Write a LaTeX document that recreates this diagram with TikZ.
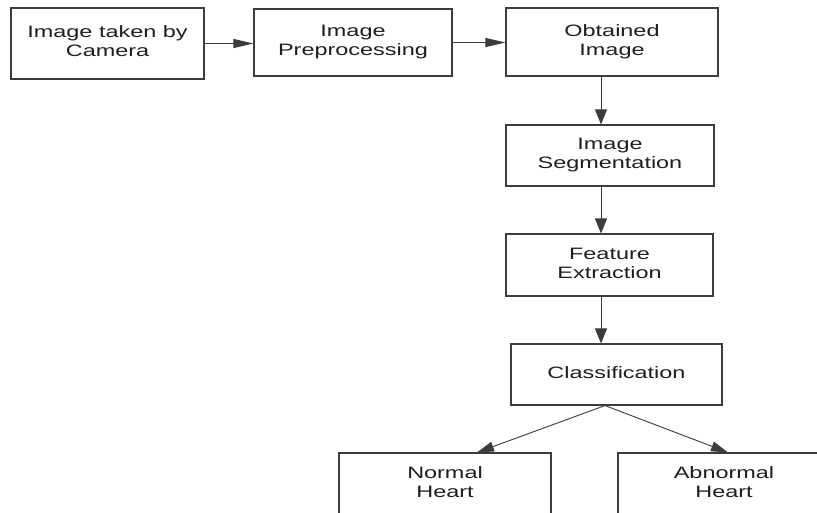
\documentclass[tikz,border=0pt]{standalone}
\usepackage{fontspec}
\setmainfont{Liberation Sans}
\usepackage{graphicx}
\usetikzlibrary{arrows.meta}
\newcommand\bt[1]{\raisebox{-2.1pt}{\scalebox{1.42}[1]{\begin{tabular}{@{}c@{}}#1\end{tabular}}}}
\definecolor{lc}{HTML}{3C3C3C}
\definecolor{tc}{HTML}{1E1E1E}
\begin{document}
\begin{tikzpicture}[x=1pt,y=-1pt,
  blk/.style={draw=lc,line width=1.1pt,inner sep=0pt,text=tc,
    font=\fontsize{16.5}{19}\selectfont,align=center},
  harr/.style={draw=lc,line width=1pt,-{Triangle[length=20pt,width=9pt]}},
  varr/.style={draw=lc,line width=1pt,-{Triangle[length=15pt,width=12pt]}},
  darr/.style={draw=lc,line width=0.9pt,-{Triangle[length=17pt,width=10pt]}}]
\fill[white] (0,0) rectangle (817,512);
\useasboundingbox (0,0) rectangle (817,512);
\clip (0,0) rectangle (817,512);
\node[blk,minimum width=193pt,minimum height=71pt] (b1) at (107.5,43.5) {\bt{Image taken by\\Camera}};
\node[blk,minimum width=198pt,minimum height=67pt] (b2) at (353,42.5) {\bt{Image\\Preprocessing}};
\node[blk,minimum width=212pt,minimum height=68pt] (b3) at (612,42) {\bt{Obtained\\Image}};
\node[blk,minimum width=208pt,minimum height=61pt] (b4) at (610,155.5) {\bt{Image\\Segmentation}};
\node[blk,minimum width=207pt,minimum height=62pt] (b5) at (609.5,265) {\bt{Feature\\Extraction}};
\node[blk,minimum width=211pt,minimum height=61pt] (b6) at (616.5,374.5) {\bt{Classification}};
\node[blk,minimum width=212pt,minimum height=62pt] (b7) at (445,484) {\bt{Normal\\Heart}};
\node[blk,minimum width=212pt,minimum height=62pt] (b8) at (724,484) {\bt{Abnormal\\Heart}};
\coordinate (vx) at (601,0);
\coordinate (sp) at (605,0);
\coordinate (lx) at (477,0);
\coordinate (rx) at (728,0);
\draw[harr] (b1.east) -- (b1.east -| b2.west);
\draw[harr] (b2.east) -- (b2.east -| b3.west);
\draw[varr] (b3.south -| vx) -- (b4.north -| vx);
\draw[varr] (b4.south -| vx) -- (b5.north -| vx);
\draw[varr] (b5.south -| vx) -- (b6.north -| vx);
\draw[darr] (b6.south -| sp) -- (b7.north -| lx);
\draw[darr] (b6.south -| sp) -- (b8.north -| rx);
\end{tikzpicture}
\end{document}
